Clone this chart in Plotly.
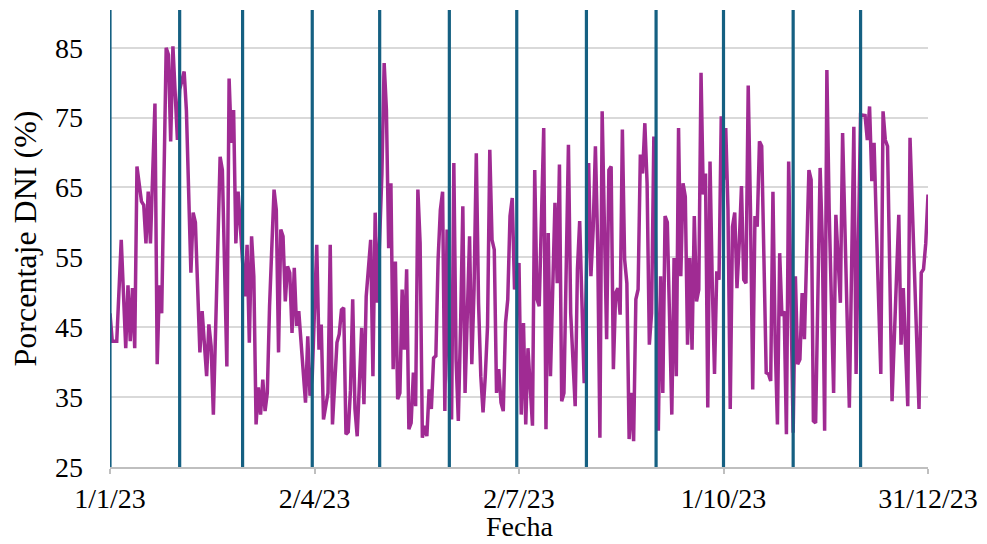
import pandas as pd
import plotly.graph_objects as go

# Day offsets from 1 Jan 2023 and DNI percentage
day_offsets = [
    0, 1, 3, 5, 7, 8, 9, 10, 11, 12, 14, 15, 16, 17, 18, 20, 21, 22, 23, 25,
    26, 27, 28, 30, 31, 33, 34, 35, 36, 37, 38, 40, 41, 43, 44, 45, 46, 48, 49, 50,
    51, 52, 53, 54, 55, 56, 57, 58, 60, 61, 62, 63, 64, 65, 66, 67, 68, 69, 70, 71,
    73, 74, 75, 76, 77, 78, 79, 80, 81, 82, 83, 84, 86, 87, 88, 89, 90, 92, 93, 94,
    95, 97, 98, 99, 101, 102, 103, 104, 105, 106, 107, 108, 109, 110, 112, 113, 114, 116, 117, 118,
    119, 121, 122, 123, 124, 125, 126, 127, 128, 129, 130, 131, 132, 133, 134, 135, 136, 137, 138, 139,
    140, 141, 142, 143, 144, 145, 146, 147, 148, 149, 150, 151, 152, 153, 154, 155, 156, 157, 158, 159,
    160, 161, 162, 163, 164, 165, 166, 167, 168, 169, 170, 171, 172, 173, 174, 175, 176, 177, 178, 179,
    180, 182, 183, 184, 185, 186, 188, 189, 190, 191, 193, 194, 195, 196, 197, 198, 199, 200, 201, 202,
    204, 205, 207, 208, 209, 211, 213, 214, 215, 216, 217, 218, 219, 220, 221, 222, 223, 224, 225, 226,
    227, 228, 229, 230, 231, 232, 233, 234, 235, 236, 237, 238, 239, 240, 241, 242, 244, 245, 246, 247,
    248, 250, 251, 252, 253, 254, 255, 256, 257, 258, 259, 260, 261, 262, 263, 264, 265, 266, 267, 268,
    269, 270, 271, 272, 273, 274, 275, 276, 277, 278, 279, 280, 281, 282, 283, 284, 285, 286, 287, 288,
    289, 290, 291, 292, 293, 294, 295, 296, 297, 298, 299, 300, 301, 302, 304, 305, 306, 307, 308, 309,
    311, 312, 313, 314, 316, 317, 318, 319, 320, 322, 323, 325, 326, 329, 331, 332, 334, 336, 337, 338,
    339, 340, 341, 343, 344, 345, 346, 348, 350, 351, 352, 353, 355, 356, 360, 361, 362, 363, 364,
]
dni_pct = [
    47, 43, 43, 57.5, 42, 51, 43, 50.6, 42, 68, 63, 62.5, 57, 64.4, 57, 77, 39.7, 51, 47, 85,
    84, 71.6, 85.2, 71.8, 79, 81.6, 76, 61.8, 52.8, 61.4, 60, 41.4, 47.3, 38, 45.4, 42.3, 32.5, 57, 69.4, 67.5,
    52.3, 39.4, 80.6, 71.4, 76.1, 57, 64.4, 59.4, 49.4, 56.8, 42.8, 58, 52.3, 31.1, 36.4, 32.5, 37.5, 33, 35.6, 48,
    64.7, 61.8, 41.4, 59, 58, 48.7, 53.7, 52.8, 44.2, 53.5, 45.2, 47.3, 38.5, 34.2, 43.7, 35.2, 38, 56.8, 41.8, 45.4,
    31.8, 35.6, 56.8, 31.1, 42.8, 44, 47.5, 47.8, 29.7, 30, 36, 49, 33.3, 29.4, 44.9, 34, 49.4, 57.5, 38, 61.4,
    48.5, 67, 82.8, 76.1, 56.3, 65.6, 39, 54.4, 34.7, 35.6, 50.4, 41.8, 53.3, 30.4, 31.3, 38.5, 33.7, 64.7, 57, 29.2,
    30.9, 29.4, 36.1, 33.3, 40.6, 40.9, 54.7, 61.8, 64.4, 33, 59, 38, 31.8, 68.5, 40.4, 31.6, 45.2, 62.3, 35.6, 45.6,
    58, 39.7, 50.4, 69.9, 48.5, 38, 32.8, 38, 45.2, 70.4, 57.5, 56.1, 35.6, 39, 34.2, 33, 45.6, 49, 60.9, 63.5,
    50.4, 54.2, 32.5, 45.6, 31.1, 42, 30.9, 67.5, 49, 48, 73.5, 30.4, 58.5, 38, 53.3, 62.8, 51.3, 68.3, 34.4, 35.6,
    71.1, 47, 33.7, 53.3, 60.2, 37, 68.5, 52.3, 59, 70.9, 57, 29.2, 75.9, 57, 43.3, 67.5, 68, 39, 49.9, 50.6,
    46.8, 73.3, 54.7, 51.3, 29, 35.6, 28.7, 49, 50.4, 69.7, 67, 74.2, 65.6, 42.5, 47, 72.3, 30.2, 52.3, 35.6, 60.9,
    60, 32.5, 54.9, 38, 73.5, 52.3, 65.6, 63.7, 42.5, 54.9, 41.8, 60.9, 48.7, 50.4, 81.4, 64, 67, 33.5, 68.7, 51.3,
    38.3, 53, 51.8, 75.2, 66.1, 73.5, 61.8, 33.3, 59.4, 61.4, 50.6, 57, 65.2, 51.8, 51.3, 79.6, 61.8, 36.1, 60.9, 59.4,
    71.6, 70.9, 52.3, 38.5, 38.3, 37.3, 64.4, 42.8, 31.1, 55.6, 46.6, 47.3, 29.7, 68.7, 29.9, 52.3, 39.7, 40.4, 49.9, 43.3,
    67.5, 66.1, 31.6, 31.3, 67.8, 57, 30.2, 81.8, 62, 35.6, 61.1, 48.5, 72.8, 33.5, 73.7, 38.3, 75.4, 75.3, 71.8, 76.6,
    65.9, 71.4, 59.9, 38.3, 75.9, 71.8, 70.9, 34.4, 52.3, 61.1, 42.5, 50.6, 33.7, 72.1, 33.3, 52.8, 53.3, 57, 64,
]

# Month boundaries (vertical reference lines)
month_starts = [
    "2023-01-01", "2023-02-01", "2023-03-01", "2023-04-01", "2023-05-01", "2023-06-01",
    "2023-07-01", "2023-08-01", "2023-09-01", "2023-10-01", "2023-11-01", "2023-12-01",
]

# Axis ticks
x_tick_vals = ["2023-01-01", "2023-04-02", "2023-07-02", "2023-10-01", "2023-12-31"]
x_tick_text = ["1/1/23", "2/4/23", "2/7/23", "1/10/23", "31/12/23"]
y_tick_vals = [25, 35, 45, 55, 65, 75, 85]

dates = pd.Timestamp("2023-01-01") + pd.to_timedelta(day_offsets, unit="D")

FONT = "Liberation Serif"
PURPLE = "#A02B93"
BLUE = "#156082"

fig = go.Figure()
fig.add_trace(go.Scatter(
    x=dates, y=dni_pct, mode="lines",
    line=dict(color=PURPLE, width=3.5),
    showlegend=False, hoverinfo="x+y",
))

for d in month_starts:
    fig.add_shape(type="line", xref="x", yref="paper", x0=d, x1=d, y0=0, y1=1,
                  line=dict(color=BLUE, width=3.2), layer="above")

# X-axis title placed just under the tick labels
fig.add_annotation(text="Fecha", xref="paper", yref="paper", x=0.5, y=0,
                   xanchor="center", yanchor="bottom", yshift=-77, showarrow=False,
                   font=dict(family=FONT, size=28, color="black"))

fig.update_layout(
    width=987, height=544,
    margin=dict(l=110, r=59, t=10, b=77),
    paper_bgcolor="white", plot_bgcolor="white",
    font=dict(family=FONT, size=28, color="black"),
    showlegend=False,
)
fig.update_xaxes(
    type="date", range=["2023-01-01", "2023-12-31"], automargin=False,
    tickmode="array", tickvals=x_tick_vals, ticktext=x_tick_text,
    showgrid=False, zeroline=False,
    showline=True, linecolor="#BFBFBF", linewidth=2,
    ticks="outside", ticklen=5, tickcolor="#BFBFBF", tickwidth=2,
    tickfont=dict(family=FONT, size=28, color="black"),
)
fig.update_yaxes(
    range=[25, 90.4], tickmode="array", tickvals=y_tick_vals, automargin=False,
    showgrid=True, gridcolor="#D9D9D9", gridwidth=2,
    zeroline=False, showline=False, ticks="",
    ticklabelstandoff=26,
    tickfont=dict(family=FONT, size=28, color="black"),
    title=dict(text="Porcentaje DNI (%)", font=dict(family=FONT, size=32, color="black"), standoff=8),
)

fig.write_html("out.html")
